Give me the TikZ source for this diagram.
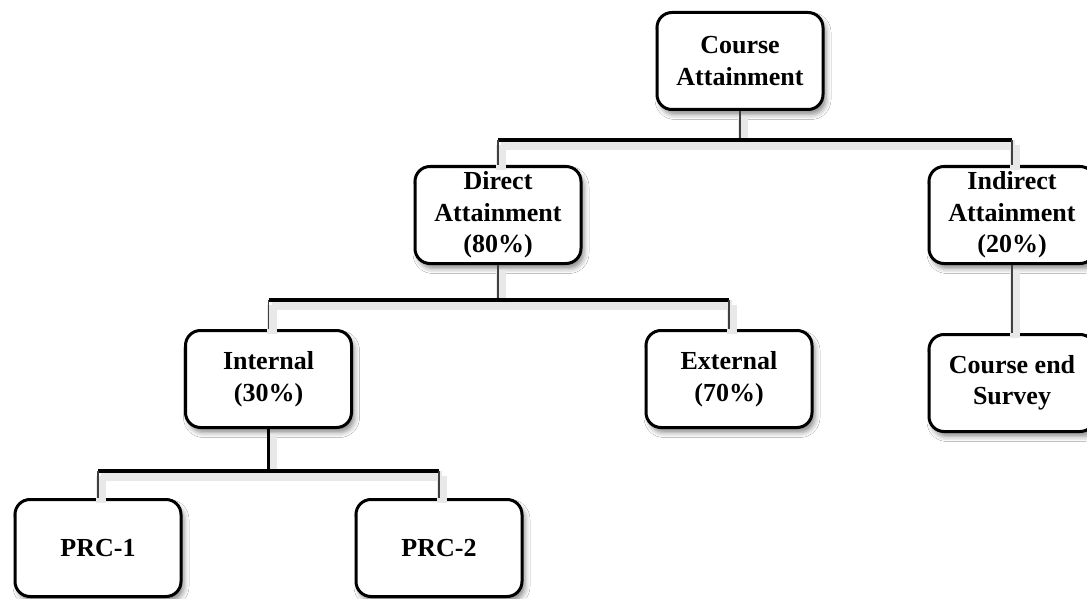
\documentclass[tikz,border=0pt]{standalone}
\usepackage{fontspec}
\setmainfont{Liberation Serif}
\usetikzlibrary{shadows.blur}
\tikzset{
  box/.style={draw=black, line width=3pt, fill=white, rounded corners=15pt,
    minimum width=166pt, minimum height=97pt, align=center, inner sep=2pt,
    font=\bfseries\fontsize{26}{31.5}\selectfont,
    blur shadow={shadow xshift=3pt, shadow yshift=-5pt, shadow blur radius=5pt, shadow opacity=45}},
  lsh/.style={preaction={draw=black!9, line width=10pt, line cap=butt,
    transform canvas={xshift=3pt, yshift=-5pt}}},
  bus/.style={draw=black, line width=3.2pt, lsh},
  drop/.style={draw=black!75, line width=1.4pt, lsh},
  stem/.style={draw=black, line width=3pt, lsh},
}
\begin{document}
\begin{tikzpicture}[x=1pt,y=-1pt]
\clip (0,0) rectangle (1087,599);
\fill[white] (0,0) rectangle (1087,599);
\coordinate (b1) at (0,140);
\coordinate (b2) at (0,300);
\coordinate (b3) at (0,471);
\node[box] (course) at (740,61) {Course\\Attainment};
\node[box] (direct) at (498,215) {Direct\\Attainment\\(80\%)};
\node[box] (indirect) at (1012,215) {Indirect\\Attainment\\(20\%)};
\node[box] (internal) at (268.5,379) {Internal\\(30\%)};
\node[box] (external) at (729,379) {External\\(70\%)};
\node[box] (survey) at (1012,383) {Course end\\Survey};
\node[box] (prc1) at (98,548) {PRC-1};
\node[box] (prc2) at (439,548) {PRC-2};
% level 1
\draw[drop] (course.south) -- (course.south |- b1);
\draw[bus] (direct.north |- b1) -- (indirect.north |- b1);
\draw[drop] (direct.north |- b1) -- (direct.north);
\draw[drop] (indirect.north |- b1) -- (indirect.north);
% level 2
\draw[drop] (direct.south) -- (direct.south |- b2);
\draw[bus] (internal.north |- b2) -- (external.north |- b2);
\draw[drop] (internal.north |- b2) -- (internal.north);
\draw[drop] (external.north |- b2) -- (external.north);
\draw[drop] (indirect.south) -- (survey.north);
% level 3
\draw[stem] (internal.south) -- (internal.south |- b3);
\draw[bus] (prc1.north |- b3) -- (prc2.north |- b3);
\draw[drop] (prc1.north |- b3) -- (prc1.north);
\draw[drop] (prc2.north |- b3) -- (prc2.north);
\end{tikzpicture}
\end{document}
